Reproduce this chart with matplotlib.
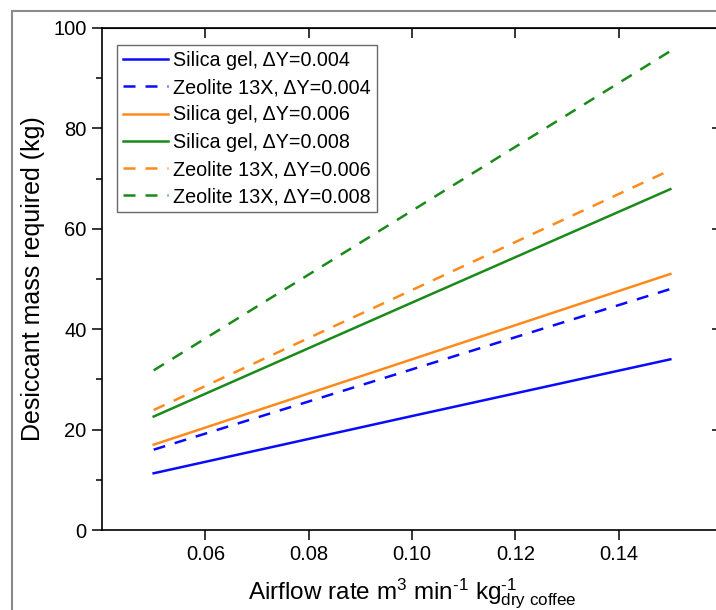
import matplotlib
matplotlib.use("Agg")
import matplotlib.pyplot as plt
import matplotlib.patches as mpatches
from matplotlib.ticker import MultipleLocator

plt.rcParams['font.family'] = ['Liberation Sans', 'DejaVu Sans']
plt.rcParams['mathtext.fontset'] = 'custom'
plt.rcParams['mathtext.rm'] = 'Liberation Sans'
plt.rcParams['mathtext.it'] = 'Liberation Sans:italic'

# airflow rate (m3 min-1 kg-1 dry coffee)
airflow = [0.05, 0.10, 0.15]

# desiccant mass required (kg)
silica_004 = [11.3, 22.7, 34.0]
zeolite_004 = [16.0, 32.0, 48.0]
silica_006 = [17.0, 34.0, 51.0]
silica_008 = [22.6, 45.3, 67.9]
zeolite_006 = [23.9, 47.8, 71.7]
zeolite_008 = [31.8, 63.6, 95.4]

labels = ['Silica gel, ΔY=0.004', 'Zeolite 13X, ΔY=0.004', 'Silica gel, ΔY=0.006',
          'Silica gel, ΔY=0.008', 'Zeolite 13X, ΔY=0.006', 'Zeolite 13X, ΔY=0.008']

BLUE = '#0a0aff'
ORANGE = '#ff8a1c'
GREEN = '#1a8a1a'

series = [
    (silica_004, BLUE, '-'),
    (zeolite_004, BLUE, '--'),
    (silica_006, ORANGE, '-'),
    (silica_008, GREEN, '-'),
    (zeolite_006, ORANGE, '--'),
    (zeolite_008, GREEN, '--'),
]

fig = plt.figure(figsize=(7.16, 6.10), dpi=100)
ax = fig.add_axes([102 / 716, 1 - 530 / 610, 620 / 716, 502 / 610])

for (vals, col, ls), lab in zip(series, labels):
    line, = ax.plot(airflow, vals, color=col, lw=1.8, label=lab)
    if ls == '--':
        line.set_dashes((4.8, 4.0))

ax.set_xlim(0.04, 0.16)
ax.set_ylim(0, 100)
ax.yaxis.set_major_locator(MultipleLocator(20))
ax.yaxis.set_minor_locator(MultipleLocator(10))
ax.set_xticks([0.06, 0.08, 0.10, 0.12, 0.14])
ax.set_xticklabels(['0.06', '0.08', '0.10', '0.12', '0.14'])

ax.tick_params(which='major', direction='out', length=7, width=1.1, labelsize=14.5, pad=4)
ax.tick_params(which='minor', direction='out', length=4, width=1.1)
ax.tick_params(axis='x', which='minor', bottom=False)
for s in ax.spines.values():
    s.set_linewidth(1.2)

# mirrored ticks pointing inward on top and right
top = ax.secondary_xaxis('top')
top.set_xticks([0.06, 0.08, 0.10, 0.12, 0.14])
top.tick_params(direction='in', length=7, width=1.1, labeltop=False)
right = ax.secondary_yaxis('right')
right.set_yticks([20, 40, 60, 80])
right.tick_params(direction='in', length=7, width=1.1, labelright=False)

ax.set_ylabel('Desiccant mass required (kg)', fontsize=18, labelpad=6)
ax.set_xlabel(r'Airflow rate m$^{3}$ min$^{\text{-}1}$ kg$^{\text{-}1}_{\mathrm{dry\ coffee}}$',
              fontsize=17.5, labelpad=9)

leg = ax.legend(loc='upper left', bbox_to_anchor=(15 / 620, (530 - 45) / 502),
                borderaxespad=0, fontsize=14.2, frameon=True, fancybox=False,
                handlelength=2.3, handletextpad=0.25, borderpad=0.3,
                labelspacing=0.42)
leg.get_frame().set_edgecolor('#444444')
leg.get_frame().set_linewidth(1.0)

# grey frame around the panel
fig.patches.append(mpatches.Rectangle((12 / 716, -0.1), 1.2, 1 - 11 / 610 + 0.1,
                                      transform=fig.transFigure, fill=False,
                                      edgecolor='#8a8a8a', lw=1.5))

fig.savefig('out.png', dpi=100)
